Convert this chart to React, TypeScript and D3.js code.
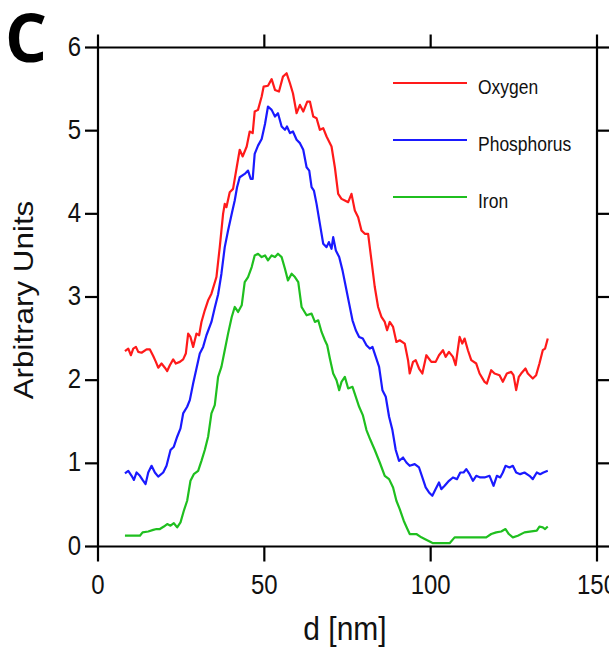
import React from 'react';
import * as d3 from 'd3';

const oxygenD = [8.1, 9.1, 9.9, 10.6, 11.4, 12.1, 13.1, 14.6, 15.6, 16.6, 17.4, 18.1, 19.1, 20.1, 20.8, 21.6, 22.6, 23.4, 24.6, 25.6, 26.4, 27.1, 27.8, 28.6, 29.6, 30.4, 31.1, 32.1, 33.1, 34.1, 35.6, 36.6, 37.6, 38.1, 38.6, 39.6, 40.6, 41.7, 42.6, 43.5, 44.7, 45.6, 46.5, 47.1, 48.1, 49.2, 49.8, 51.1, 52.2, 53.2, 54.4, 55.6, 56.7, 57.7, 58.6, 59.7, 60.7, 61.7, 62.9, 63.7, 64.7, 65.7, 66.7, 67.7, 68.7, 70.2, 71.2, 72.2, 73.2, 74.2, 75.2, 76.2, 77.2, 78.2, 79.2, 80.2, 81.2, 82.2, 83.2, 84.2, 85.2, 86.2, 86.9, 87.7, 88.7, 89.7, 90.7, 92.2, 93.2, 93.7, 94.7, 95.5, 96.5, 97.5, 98.7, 100.2, 101.5, 102.5, 103.7, 104.5, 105.5, 106.7, 107.5, 108.7, 109.5, 110.2, 111.2, 112.2, 113.7, 114.7, 116.2, 116.9, 118.2, 119.2, 120.7, 121.7, 122.9, 124.2, 124.9, 125.7, 126.5, 127.2, 128.5, 129.2, 130.7, 131.7, 132.7, 133.7, 134.4, 135.2];
const oxygenV = [2.35, 2.38, 2.30, 2.38, 2.40, 2.34, 2.33, 2.37, 2.37, 2.29, 2.22, 2.15, 2.20, 2.15, 2.11, 2.18, 2.25, 2.20, 2.22, 2.25, 2.32, 2.56, 2.52, 2.40, 2.56, 2.54, 2.70, 2.84, 2.96, 3.04, 3.24, 3.60, 4.00, 4.12, 4.08, 4.26, 4.30, 4.56, 4.77, 4.69, 4.81, 4.99, 4.97, 5.23, 5.25, 5.41, 5.53, 5.54, 5.62, 5.49, 5.47, 5.65, 5.69, 5.57, 5.45, 5.21, 5.31, 5.23, 5.35, 5.35, 5.17, 5.15, 5.01, 5.03, 4.93, 4.81, 4.56, 4.24, 4.18, 4.16, 4.14, 4.24, 4.04, 3.96, 3.80, 3.76, 3.76, 3.44, 3.12, 2.88, 2.76, 2.70, 2.60, 2.70, 2.64, 2.46, 2.48, 2.44, 2.24, 2.08, 2.22, 2.24, 2.14, 2.08, 2.30, 2.22, 2.22, 2.30, 2.36, 2.28, 2.34, 2.28, 2.18, 2.52, 2.44, 2.50, 2.36, 2.24, 2.20, 2.08, 1.98, 1.96, 2.12, 2.08, 2.06, 1.98, 2.08, 2.10, 2.06, 1.88, 2.04, 2.08, 2.14, 2.08, 2.02, 2.06, 2.20, 2.36, 2.38, 2.50];

const phosphorusD = [8.1, 9.1, 10.1, 10.8, 11.6, 12.6, 13.4, 14.3, 15.1, 16.1, 17.1, 18.1, 19.6, 20.6, 21.8, 22.8, 23.8, 24.8, 25.6, 26.8, 27.6, 28.6, 29.6, 30.6, 31.6, 32.6, 34.1, 35.1, 36.1, 37.1, 38.1, 39.1, 40.2, 41.1, 41.8, 42.6, 44.1, 45.1, 45.9, 46.5, 47.1, 48.1, 49.2, 50.2, 51.1, 52.2, 53.2, 54.1, 55.2, 56.2, 56.8, 57.7, 58.6, 59.7, 60.7, 61.7, 62.7, 63.5, 64.2, 64.9, 65.7, 66.7, 67.7, 68.7, 69.4, 70.2, 70.7, 71.5, 72.5, 73.5, 74.5, 75.5, 76.5, 77.5, 78.5, 79.6, 80.7, 81.7, 82.5, 83.5, 84.5, 85.5, 86.5, 87.5, 88.5, 89.5, 90.5, 91.7, 92.7, 93.7, 95.2, 96.5, 97.5, 98.5, 99.5, 100.5, 101.5, 102.5, 103.2, 104.2, 105.5, 106.7, 107.9, 108.9, 109.9, 110.7, 111.7, 112.7, 113.7, 114.9, 116.2, 117.7, 118.9, 119.9, 120.9, 121.7, 122.5, 123.7, 124.7, 125.7, 126.9, 128.2, 129.7, 130.7, 131.9, 132.9, 133.9, 135.2];
const phosphorusV = [0.88, 0.91, 0.85, 0.80, 0.89, 0.85, 0.80, 0.75, 0.89, 0.97, 0.89, 0.84, 0.89, 0.97, 1.16, 1.20, 1.32, 1.42, 1.60, 1.68, 1.76, 1.96, 2.14, 2.32, 2.40, 2.54, 2.70, 2.87, 3.03, 3.28, 3.60, 3.80, 4.00, 4.16, 4.32, 4.44, 4.48, 4.52, 4.42, 4.42, 4.72, 4.82, 4.90, 5.08, 5.29, 5.25, 5.17, 5.21, 5.05, 5.01, 5.05, 4.97, 4.99, 4.89, 4.85, 4.77, 4.56, 4.52, 4.32, 4.28, 4.12, 3.88, 3.64, 3.60, 3.66, 3.58, 3.72, 3.56, 3.48, 3.32, 3.12, 2.92, 2.72, 2.60, 2.52, 2.50, 2.42, 2.38, 2.40, 2.28, 2.16, 1.88, 1.80, 1.56, 1.40, 1.16, 1.03, 1.07, 1.01, 0.97, 0.99, 0.95, 0.83, 0.71, 0.65, 0.61, 0.69, 0.77, 0.69, 0.73, 0.79, 0.83, 0.81, 0.89, 0.89, 0.93, 0.87, 0.79, 0.85, 0.83, 0.83, 0.85, 0.73, 0.85, 0.83, 0.89, 0.97, 0.95, 0.97, 0.89, 0.87, 0.89, 0.85, 0.81, 0.89, 0.87, 0.89, 0.91];

const ironD = [8.1, 9.6, 12.6, 13.4, 15.1, 16.6, 17.6, 18.6, 19.8, 20.8, 21.8, 22.8, 23.8, 24.8, 25.8, 26.8, 27.8, 28.8, 30.1, 31.1, 32.1, 33.1, 34.1, 35.1, 36.1, 37.1, 38.1, 39.1, 40.2, 41.1, 42.1, 43.2, 44.1, 45.1, 46.2, 47.1, 48.1, 49.2, 50.2, 51.1, 52.2, 53.2, 54.1, 55.2, 56.2, 57.1, 58.2, 59.2, 60.2, 61.2, 62.7, 64.2, 65.2, 66.2, 67.2, 68.2, 68.9, 69.7, 70.7, 71.7, 72.5, 73.2, 74.2, 75.2, 76.5, 77.5, 78.5, 79.6, 80.7, 81.9, 83.2, 84.7, 86.2, 87.5, 88.7, 89.7, 90.7, 91.9, 92.9, 93.7, 95.7, 97.2, 98.2, 99.7, 100.7, 105.7, 107.2, 108.7, 116.7, 118.2, 119.7, 121.2, 122.5, 123.5, 124.7, 126.2, 128.2, 131.9, 132.7, 133.7, 134.4, 135.2];
const ironV = [0.13, 0.13, 0.13, 0.17, 0.18, 0.20, 0.21, 0.21, 0.24, 0.27, 0.25, 0.28, 0.23, 0.29, 0.43, 0.55, 0.79, 0.87, 0.91, 1.03, 1.16, 1.32, 1.60, 1.70, 2.04, 2.16, 2.36, 2.56, 2.76, 2.88, 2.82, 2.90, 3.18, 3.24, 3.36, 3.50, 3.52, 3.48, 3.50, 3.44, 3.50, 3.48, 3.52, 3.48, 3.34, 3.20, 3.28, 3.24, 3.18, 2.88, 2.78, 2.80, 2.70, 2.72, 2.58, 2.48, 2.42, 2.26, 2.08, 2.00, 1.88, 1.98, 2.04, 1.90, 1.92, 1.80, 1.68, 1.58, 1.40, 1.28, 1.16, 1.01, 0.85, 0.81, 0.71, 0.55, 0.45, 0.31, 0.22, 0.15, 0.15, 0.11, 0.09, 0.06, 0.04, 0.04, 0.11, 0.11, 0.11, 0.15, 0.17, 0.18, 0.21, 0.15, 0.11, 0.13, 0.17, 0.19, 0.24, 0.23, 0.21, 0.24];

const seriesNames = ['Oxygen', 'Phosphorus', 'Iron'];
const seriesColors = ['#ff1a1a', '#1a1aff', '#1fbf1f'];
const xTicks = [0, 50, 100, 150];
const yTicks = [0, 1, 2, 3, 4, 5, 6];
const xTitle = 'd [nm]';
const yTitle = 'Arbitrary Units';
const panelLabel = 'C';

export default function App() {
  const W = 609, H = 649;
  const left = 98, right = 597, top = 47.5, bottom = 546.5;
  const x = d3.scaleLinear().domain([0, 150]).range([left, right]);
  const y = d3.scaleLinear().domain([0, 6]).range([bottom, top]);
  const series = [
    { name: seriesNames[0], color: seriesColors[0], d: oxygenD, v: oxygenV },
    { name: seriesNames[1], color: seriesColors[1], d: phosphorusD, v: phosphorusV },
    { name: seriesNames[2], color: seriesColors[2], d: ironD, v: ironV },
  ];
  const line = d3.line<number>();
  const tl = 13;
  const font = 'Arial, "Liberation Sans", sans-serif';
  const sy = 1.12;
  return (
    <svg width={W} height={H} style={{ position: 'absolute', left: 0, top: 0, background: '#fff' }}>
      <rect x={0} y={0} width={W} height={H} fill="#fff" />
      {series.map((s) => {
        const pts = s.d.map((dv, i) => [x(dv), y(s.v[i])] as [number, number]);
        const path = d3.line()(pts) || '';
        return <path key={s.name} d={path} fill="none" stroke={s.color} strokeWidth={2.2} strokeLinejoin="round" />;
      })}
      {/* frame */}
      <g stroke="#000" strokeWidth={2.2} fill="none">
        <line x1={left} x2={right} y1={top} y2={top} />
        <line x1={left} x2={right} y1={bottom} y2={bottom} />
        <line x1={left} x2={left} y1={top} y2={bottom} />
        <line x1={right} x2={right} y1={top} y2={bottom} />
        {xTicks.map((t) => (
          <g key={'xt' + t}>
            <line x1={x(t)} x2={x(t)} y1={bottom} y2={bottom + tl + 2} />
            <line x1={x(t)} x2={x(t)} y1={top} y2={top - tl} />
          </g>
        ))}
        {yTicks.map((t) => (
          <g key={'yt' + t}>
            <line x1={left} x2={left - tl} y1={y(t)} y2={y(t)} />
            <line x1={right} x2={right + tl} y1={y(t)} y2={y(t)} />
          </g>
        ))}
      </g>
      <g fontFamily={font} fill="#111">
        {xTicks.map((t) => (
          <text key={'xl' + t} transform={`translate(${x(t)},594) scale(1,${sy})`} textAnchor="middle" fontSize={24}>
            {t}
          </text>
        ))}
        {yTicks.map((t) => (
          <text key={'yl' + t} transform={`translate(81,${y(t) + 8}) scale(1,${sy})`} textAnchor="end" fontSize={24}>
            {t}
          </text>
        ))}
        <text transform={`translate(345,640) scale(1,1.1)`} textAnchor="middle" fontSize={30}>
          {xTitle}
        </text>
        <text transform={`translate(33,300) scale(1,1.12) rotate(-90)`} textAnchor="middle" fontSize={28}>
          {yTitle}
        </text>
      </g>
      <g>
        {series.map((s, i) => {
          const ly = 83 + i * 57;
          return (
            <g key={'lg' + s.name}>
              <line x1={393} x2={467} y1={ly} y2={ly} stroke={s.color} strokeWidth={2.2} />
              <text transform={`translate(478,${ly + 10.5}) scale(1,1.15)`} fontFamily={font} fontSize={17.5} fill="#111">
                {s.name}
              </text>
            </g>
          );
        })}
      </g>
      <text x={5} y={62} fontFamily='"Open Sans", sans-serif' fontWeight="bold" fontSize={66} fill="#000">
        {panelLabel}
      </text>
    </svg>
  );
}
